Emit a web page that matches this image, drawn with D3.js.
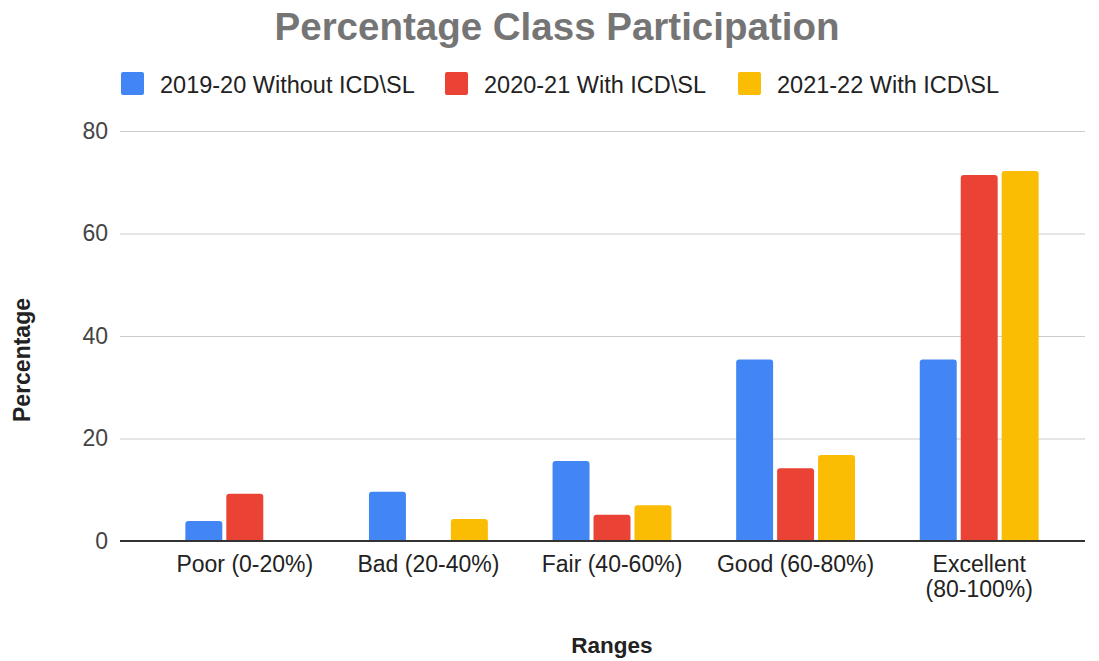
<!DOCTYPE html>
<html>
<head>
<meta charset="utf-8">
<script src="https://cdn.jsdelivr.net/npm/d3@7"></script>
<style>
  body { margin: 0; background: #fff; }
  svg { font-family: Arial, "Liberation Sans", sans-serif; }
</style>
</head>
<body>
<svg width="1099" height="661"></svg>
<script>
// chart data
let categories = ['Poor (0-20%)', 'Bad (20-40%)', 'Fair (40-60%)', 'Good (60-80%)', 'Excellent (80-100%)']
let seriesNames = ['2019-20 Without ICD\\SL', '2020-21 With ICD\\SL', '2021-22 With ICD\\SL']
let s2019 = [3.9, 9.6, 15.6, 35.4, 35.4]
let s2020 = [9.2, 0, 5.1, 14.2, 71.4]
let s2021 = [0, 4.3, 7.0, 16.8, 72.2]
let yTicks = [0, 20, 40, 60, 80]
let colors = ['#4285f4', '#ea4335', '#fbbc04']

let width = 1099
let height = 661
let svg = d3.select('svg')

let seriesValues = [s2019, s2020, s2021]

let plotLeft = 120
let plotRight = 1085

let xScale = d3.scaleBand()
               .domain(categories)
               .range([153, 1071])
               .padding(0)

let x1Scale = d3.scaleBand()
                .domain(seriesNames)
                .range([0, xScale.bandwidth()])
                .paddingInner(0.0976)
                .paddingOuter(0.79)

let yScale = d3.scaleLinear()
               .domain([0, 80])
               .range([541, 131])

// title
svg.append('text')
   .attr('x', 557)
   .attr('y', 40)
   .attr('text-anchor', 'middle')
   .attr('font-size', 38.5)
   .attr('font-weight', 'bold')
   .attr('fill', '#757575')
   .text('Percentage Class Participation')

// legend
let legendX = [121, 445, 738]
seriesNames.forEach((name, i) => {
    let g = svg.append('g').attr('transform', 'translate(' + legendX[i] + ',72)')
    g.append('rect')
     .attr('width', 23).attr('height', 23)
     .attr('rx', 2)
     .attr('fill', colors[i])
    g.append('text')
     .attr('x', 39).attr('y', 21)
     .attr('font-size', 23.5)
     .attr('fill', '#222')
     .text(name)
})

// gridlines + y axis labels
let yAxis = d3.axisLeft(yScale)
              .tickValues(yTicks)
              .tickSize(-(plotRight - plotLeft))
              .tickPadding(12)

let yAxisG = svg.append('g')
   .attr('transform', 'translate(' + plotLeft + ',0)')
   .call(yAxis)
yAxisG.select('.domain').remove()
yAxisG.selectAll('line').attr('stroke', '#cccccc').attr('stroke-width', 1.2)
yAxisG.selectAll('text')
      .attr('font-size', 23)
      .attr('fill', '#444')
      .attr('font-family', 'Arial, "Liberation Sans", sans-serif')

// bars with rounded tops
let barPath = (x, y, w, h, r) => {
    if (h <= 0) return ''
    r = Math.min(r, h, w / 2)
    return 'M' + x + ',' + (y + h) +
           'V' + (y + r) +
           'Q' + x + ',' + y + ' ' + (x + r) + ',' + y +
           'H' + (x + w - r) +
           'Q' + (x + w) + ',' + y + ' ' + (x + w) + ',' + (y + r) +
           'V' + (y + h) + 'Z'
}

seriesNames.forEach((name, si) => {
    svg.append('g')
       .selectAll('path')
       .data(seriesValues[si])
       .enter()
       .append('path')
       .attr('fill', colors[si])
       .attr('d', (v, i) => {
           let x = xScale(categories[i]) + x1Scale(name)
           let y = yScale(v)
           return barPath(x, y, x1Scale.bandwidth(), yScale(0) - y, 3)
       })
})

// baseline
svg.append('line')
   .attr('x1', plotLeft).attr('x2', plotRight)
   .attr('y1', yScale(0)).attr('y2', yScale(0))
   .attr('stroke', '#333').attr('stroke-width', 2)

// x axis labels
let xAxis = d3.axisBottom(xScale).tickSize(0).tickPadding(0)
let xAxisG = svg.append('g')
   .attr('transform', 'translate(0,' + yScale(0) + ')')
   .call(xAxis)
xAxisG.select('.domain').remove()
xAxisG.selectAll('text').remove()
xAxisG.selectAll('.tick')
      .append('text')
      .attr('text-anchor', 'middle')
      .attr('font-size', 23)
      .attr('fill', '#222')
      .each(function(d) {
          let t = d3.select(this)
          let parts = d.length > 16 ? [d.split(' ')[0], d.split(' ')[1]] : [d]
          parts.forEach((p, k) => {
              t.append('tspan').attr('x', 0).attr('y', 31 + k * 25).text(p)
          })
      })

// axis titles
svg.append('text')
   .attr('x', 612)
   .attr('y', 653)
   .attr('text-anchor', 'middle')
   .attr('font-size', 22.5)
   .attr('font-weight', 'bold')
   .attr('fill', '#222')
   .text('Ranges')

svg.append('text')
   .attr('transform', 'translate(30,' + 360 + ') rotate(-90)')
   .attr('text-anchor', 'middle')
   .attr('font-size', 23)
   .attr('font-weight', 'bold')
   .attr('fill', '#222')
   .text('Percentage')
</script>
</body>
</html>
